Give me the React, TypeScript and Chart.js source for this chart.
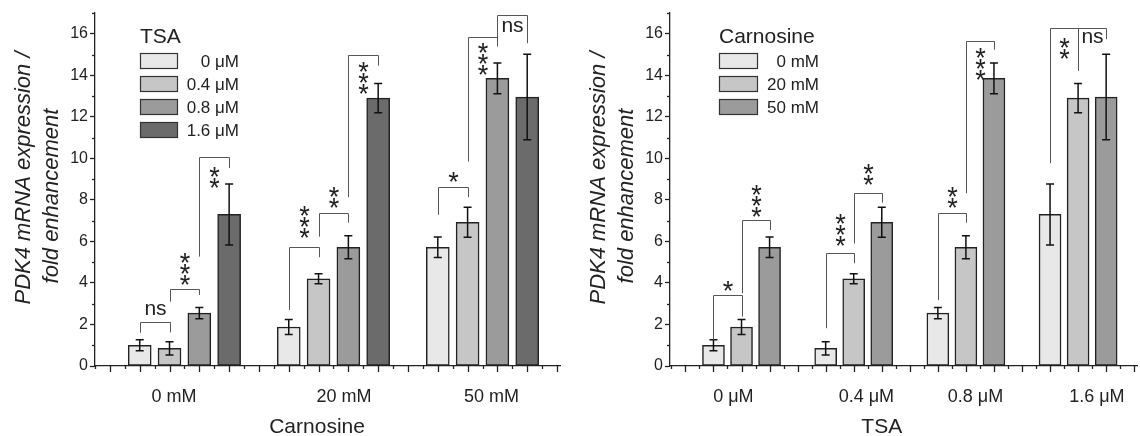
import React, { useEffect, useRef } from 'react';
import { Chart, registerables } from 'chart.js';

Chart.register(...registerables);

// ---------------- data ----------------
const tsaLabels = ['0 μM', '0.4 μM', '0.8 μM', '1.6 μM'];
const carnosineLabels = ['0 mM', '20 mM', '50 mM'];

// mean PDK4 fold enhancement for each carnosine level, ordered by TSA level
const meanCarn0 = [1.0, 0.85, 2.55, 7.3];
const meanCarn20 = [1.88, 4.2, 5.72, 12.9];
const meanCarn50 = [5.72, 6.92, 13.85, 12.95];
// error bars (±)
const errCarn0 = [0.27, 0.32, 0.27, 1.47];
const errCarn20 = [0.36, 0.24, 0.55, 0.7];
const errCarn50 = [0.49, 0.72, 0.74, 2.06];

const yMajorTicks = [0, 2, 4, 6, 8, 10, 12, 14, 16];
const yMinorTicks = [1, 3, 5, 7, 9, 11, 13, 15, 17];
const yMax = 17;

const yTitleLines = ['PDK4 mRNA expression /', 'fold enhancement'];

// significance brackets: group g, bars a -> b, bracket top, leg ends, label and label centre (data units)
type Sig = { g: number; a: number; b: number; top: number; endA: number; endB: number; text: string; at: number };

const leftSig: Sig[] = [
  { g: 0, a: 0, b: 1, top: 2.14, endA: 1.6, endB: 1.62, text: 'ns', at: 2.7 },
  { g: 0, a: 1, b: 2, top: 3.7, endA: 3.1, endB: 3.42, text: '***', at: 4.69 },
  { g: 0, a: 2, b: 3, top: 10.06, endA: 5.27, endB: 9.53, text: '**', at: 9.08 },
  { g: 1, a: 0, b: 1, top: 5.72, endA: 2.7, endB: 5.24, text: '***', at: 6.93 },
  { g: 1, a: 1, b: 2, top: 7.36, endA: 6.23, endB: 6.9, text: '**', at: 8.13 },
  { g: 1, a: 2, b: 3, top: 14.96, endA: 8.13, endB: 14.46, text: '***', at: 13.86 },
  { g: 2, a: 0, b: 1, top: 8.61, endA: 7.28, endB: 8.13, text: '*', at: 9.12 },
  { g: 2, a: 1, b: 2, top: 15.84, endA: 9.85, endB: 15.39, text: '***', at: 14.77 },
  { g: 2, a: 2, b: 3, top: 16.9, endA: 15.4, endB: 15.55, text: 'ns', at: 16.35 },
];

const rightSig: Sig[] = [
  { g: 0, a: 0, b: 1, top: 3.42, endA: 1.25, endB: 2.38, text: '*', at: 3.86 },
  { g: 0, a: 1, b: 2, top: 7.04, endA: 3.5, endB: 6.55, text: '***', at: 7.97 },
  { g: 1, a: 0, b: 1, top: 5.43, endA: 1.82, endB: 4.95, text: '***', at: 6.53 },
  { g: 1, a: 1, b: 2, top: 8.35, endA: 5.9, endB: 7.87, text: '**', at: 9.2 },
  { g: 2, a: 0, b: 1, top: 7.36, endA: 3.18, endB: 6.9, text: '**', at: 8.13 },
  { g: 2, a: 1, b: 2, top: 15.63, endA: 8.32, endB: 15.23, text: '***', at: 14.55 },
  { g: 3, a: 0, b: 1, top: 16.3, endA: 9.77, endB: 14.22, text: '**', at: 15.27 },
  { g: 3, a: 1, b: 2, top: 16.3, endA: 14.22, endB: 15.74, text: 'ns', at: 15.8 },
];

// ---------------- styling / layout ----------------
const FONT = '"Liberation Sans", Arial, sans-serif';
const INK = '#222';
const GREYS = ['#e8e8e8', '#c6c6c6', '#9b9b9b', '#6b6b6b'];

interface PanelCfg {
  seriesLabels: string[];
  groupLabels: string[];
  means: number[][]; // [series][group]
  errs: number[][];
  sig: Sig[];
  legendTitle: string;
  axisTitle: string;
  xMin: number;
  xMax: number;
  yAxisWidth: number;
  padRight: number;
  barThickness: number;
  legendX: number;
  legendLabelRight: number;
  legendBoxW: number;
  groupLabelShift: number[];
  titleSlot: number;
}

const carnMeans = [meanCarn0, meanCarn20, meanCarn50];
const carnErrs = [errCarn0, errCarn20, errCarn50];

const leftCfg: PanelCfg = {
  seriesLabels: tsaLabels,
  groupLabels: carnosineLabels,
  means: tsaLabels.map((_, t) => carnMeans.map((row) => row[t])),
  errs: tsaLabels.map((_, t) => carnErrs.map((row) => row[t])),
  sig: leftSig,
  legendTitle: 'TSA',
  axisTitle: 'Carnosine',
  xMin: -0.5,
  xMax: 15.1,
  yAxisWidth: 95,
  padRight: 10,
  barThickness: 23,
  legendX: 140,
  legendLabelRight: 239,
  legendBoxW: 37,
  groupLabelShift: [-0.35, 0.35, 0.3],
  titleSlot: 6.95,
};

const rightCfg: PanelCfg = {
  seriesLabels: carnosineLabels,
  groupLabels: tsaLabels,
  means: carnMeans,
  errs: carnErrs,
  sig: rightSig,
  legendTitle: 'Carnosine',
  axisTitle: 'TSA',
  xMin: -0.55,
  xMax: 16.1,
  yAxisWidth: 100,
  padRight: 3,
  barThickness: 22,
  legendX: 149,
  legendLabelRight: 249,
  legendBoxW: 38,
  groupLabelShift: [-0.29, 0.45, 0.34, 0.67],
  titleSlot: 7.0,
};

function slotOf(cfg: PanelCfg, g: number, s: number) {
  return 1 + g * (cfg.seriesLabels.length + 1) + s;
}

function inkCenterBaseline(ctx: CanvasRenderingContext2D, text: string, cy: number) {
  const m = ctx.measureText(text);
  const asc = m.actualBoundingBoxAscent;
  const desc = m.actualBoundingBoxDescent;
  return cy + (asc - desc) / 2;
}

function makeDecor(cfg: PanelCfg) {
  return {
    id: 'decor',
    afterDatasetsDraw(chart: any) {
      const ctx: CanvasRenderingContext2D = chart.ctx;
      const xs = chart.scales.x;
      const ys = chart.scales.y;
      ctx.save();

      // error bars
      ctx.strokeStyle = '#111';
      ctx.lineWidth = 1.5;
      cfg.means.forEach((row, s) => {
        const meta = chart.getDatasetMeta(s);
        row.forEach((m, g) => {
          const el = meta.data[g];
          if (!el) return;
          const x = el.x;
          const e = cfg.errs[s][g];
          const y1 = ys.getPixelForValue(m + e);
          const y2 = ys.getPixelForValue(m - e);
          ctx.beginPath();
          ctx.moveTo(x, y1);
          ctx.lineTo(x, y2);
          ctx.moveTo(x - 4, y1);
          ctx.lineTo(x + 4, y1);
          ctx.moveTo(x - 4, y2);
          ctx.lineTo(x + 4, y2);
          ctx.stroke();
        });
      });

      // significance brackets
      ctx.strokeStyle = '#555';
      ctx.lineWidth = 1;
      ctx.fillStyle = INK;
      cfg.sig.forEach((sg) => {
        const xa = Math.round(xs.getPixelForValue(slotOf(cfg, sg.g, sg.a))) + 0.5;
        const xb = Math.round(xs.getPixelForValue(slotOf(cfg, sg.g, sg.b))) + 0.5;
        const yt = Math.round(ys.getPixelForValue(sg.top)) + 0.5;
        ctx.beginPath();
        ctx.moveTo(xa, ys.getPixelForValue(sg.endA));
        ctx.lineTo(xa, yt);
        ctx.lineTo(xb, yt);
        ctx.lineTo(xb, ys.getPixelForValue(sg.endB));
        ctx.stroke();
        const xm = (xa + xb) / 2;
        const cy = ys.getPixelForValue(sg.at);
        ctx.textAlign = 'center';
        ctx.textBaseline = 'alphabetic';
        if (sg.text.startsWith('*')) {
          ctx.font = `27px ${FONT}`;
          const n = sg.text.length;
          for (let k = 0; k < n; k++) {
            const c = cy + (k - (n - 1) / 2) * 11;
            ctx.fillText('*', xm, inkCenterBaseline(ctx, '*', c));
          }
        } else {
          ctx.font = `21px ${FONT}`;
          ctx.fillText(sg.text, xm, inkCenterBaseline(ctx, sg.text, cy));
        }
      });
      ctx.restore();
    },
    afterDraw(chart: any) {
      const ctx: CanvasRenderingContext2D = chart.ctx;
      const xs = chart.scales.x;
      const ys = chart.scales.y;
      const area = chart.chartArea;
      ctx.save();
      ctx.strokeStyle = INK;
      ctx.lineWidth = 1.3;

      // x ticks: major at slots, minor at half slots
      const start = Math.ceil(cfg.xMin * 2) / 2;
      for (let v = start; v <= cfg.xMax + 1e-9; v += 0.5) {
        const x = Math.round(xs.getPixelForValue(v)) + 0.5;
        const major = Math.abs(v - Math.round(v)) < 1e-6;
        ctx.beginPath();
        ctx.moveTo(x, area.bottom);
        ctx.lineTo(x, area.bottom + (major ? 6 : 3));
        ctx.stroke();
      }
      // y minor ticks
      yMinorTicks.forEach((v) => {
        const y = Math.round(ys.getPixelForValue(v)) + 0.5;
        ctx.beginPath();
        ctx.moveTo(area.left, y);
        ctx.lineTo(area.left - 3, y);
        ctx.stroke();
      });

      // group labels
      ctx.fillStyle = INK;
      ctx.font = `18px ${FONT}`;
      ctx.textAlign = 'center';
      ctx.textBaseline = 'alphabetic';
      const nS = cfg.seriesLabels.length;
      cfg.groupLabels.forEach((lab, g) => {
        const c = slotOf(cfg, g, 0) + (nS - 1) / 2 + cfg.groupLabelShift[g];
        ctx.fillText(lab, xs.getPixelForValue(c), 402);
      });

      // x axis title
      ctx.font = `21px ${FONT}`;
      ctx.fillText(cfg.axisTitle, xs.getPixelForValue(cfg.titleSlot), 433);

      // y axis title (two rotated lines)
      ctx.font = `italic 22px ${FONT}`;
      ctx.textBaseline = 'middle';
      const offs = [-71, -43];
      const cys = [178, 196];
      yTitleLines.forEach((line, i) => {
        ctx.save();
        ctx.translate(area.left + offs[i], cys[i]);
        ctx.rotate(-Math.PI / 2);
        ctx.fillText(line, 0, 0);
        ctx.restore();
      });

      // legend
      ctx.textBaseline = 'alphabetic';
      ctx.textAlign = 'left';
      ctx.font = `21px ${FONT}`;
      ctx.fillText(cfg.legendTitle, cfg.legendX, 43);
      cfg.seriesLabels.forEach((lab, i) => {
        const top = 53 + i * 23;
        ctx.fillStyle = GREYS[i];
        ctx.fillRect(cfg.legendX, top, cfg.legendBoxW, 15);
        ctx.strokeStyle = '#333';
        ctx.lineWidth = 1.2;
        ctx.strokeRect(cfg.legendX + 0.5, top + 0.5, cfg.legendBoxW, 15);
        ctx.fillStyle = INK;
        ctx.font = `17px ${FONT}`;
        ctx.textAlign = 'right';
        ctx.fillText(lab, cfg.legendLabelRight, top + 14);
      });
      ctx.restore();
    },
  };
}

function buildChart(canvas: HTMLCanvasElement, cfg: PanelCfg) {
  const datasets = cfg.seriesLabels.map((lab, s) => ({
    label: lab,
    data: cfg.groupLabels.map((_, g) => ({ x: slotOf(cfg, g, s), y: cfg.means[s][g] })),
    backgroundColor: GREYS[s],
    borderColor: '#222',
    borderWidth: 1.5,
    borderSkipped: false as const,
    barThickness: cfg.barThickness,
    grouped: false,
  }));
  return new Chart(canvas, {
    type: 'bar',
    data: { datasets },
    options: {
      responsive: false,
      animation: false,
      devicePixelRatio: 1,
      events: [],
      layout: { padding: { left: 0, right: cfg.padRight, top: 13, bottom: 0 } },
      plugins: { legend: { display: false }, tooltip: { enabled: false } },
      scales: {
        x: {
          type: 'linear',
          offset: false,
          min: cfg.xMin,
          max: cfg.xMax,
          grid: { display: false, offset: false },
          border: { display: true, color: INK, width: 1.3 },
          ticks: { display: false },
          afterFit: (s: any) => {
            s.height = 70;
          },
        },
        y: {
          type: 'linear',
          min: 0,
          max: yMax,
          afterBuildTicks: (s: any) => {
            s.ticks = yMajorTicks.map((v) => ({ value: v }));
          },
          ticks: {
            autoSkip: false,
            padding: 2,
            color: INK,
            font: { family: FONT, size: 16 },
            callback: (v: any) => String(v),
          },
          grid: {
            display: true,
            drawOnChartArea: false,
            drawTicks: true,
            tickLength: 5,
            tickColor: INK,
            tickWidth: 1.3,
          },
          border: { display: true, color: INK, width: 1.3 },
          afterFit: (s: any) => {
            s.width = cfg.yAxisWidth;
          },
        },
      },
    },
    plugins: [makeDecor(cfg)],
  } as any);
}

export default function App() {
  const leftRef = useRef<HTMLCanvasElement>(null);
  const rightRef = useRef<HTMLCanvasElement>(null);

  useEffect(() => {
    const a = buildChart(leftRef.current!, leftCfg);
    const b = buildChart(rightRef.current!, rightCfg);
    return () => {
      a.destroy();
      b.destroy();
    };
  }, []);

  return (
    <div style={{ position: 'absolute', left: 0, top: 0, width: 1140, height: 436, background: '#fff' }}>
      <canvas ref={leftRef} width={570} height={436} style={{ position: 'absolute', left: 0, top: 0 }} />
      <canvas ref={rightRef} width={570} height={436} style={{ position: 'absolute', left: 570, top: 0 }} />
    </div>
  );
}
